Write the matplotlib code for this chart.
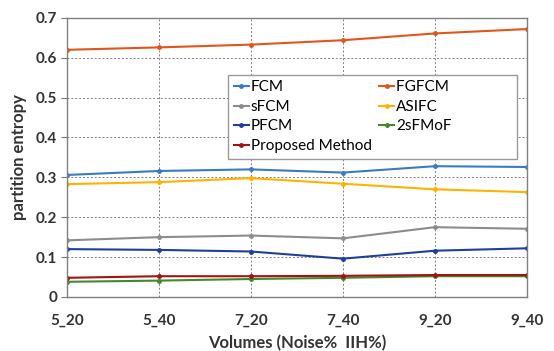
import matplotlib.pyplot as plt

plt.rcParams['font.family'] = ['Lato', 'DejaVu Sans']

volumes = ['5_20', '5_40', '7_20', '7_40', '9_20', '9_40']
fcm = [0.306, 0.316, 0.320, 0.312, 0.328, 0.326]
fgfcm = [0.620, 0.626, 0.633, 0.644, 0.661, 0.672]
sfcm = [0.142, 0.150, 0.154, 0.147, 0.175, 0.171]
asifc = [0.283, 0.288, 0.298, 0.284, 0.270, 0.263]
pfcm = [0.120, 0.118, 0.114, 0.096, 0.116, 0.122]
sfmof = [0.038, 0.041, 0.045, 0.048, 0.052, 0.052]
proposed = [0.048, 0.052, 0.052, 0.053, 0.055, 0.055]

fig = plt.figure(figsize=(5.54, 3.51), dpi=100)
ax = fig.add_axes([0.121, 0.154, 0.830, 0.795])

x = range(len(volumes))
series = [
    ('FCM', fcm, '#3a7cc3'),
    ('FGFCM', fgfcm, '#e0561c'),
    ('sFCM', sfcm, '#8c8c8c'),
    ('ASIFC', asifc, '#ffb300'),
    ('PFCM', pfcm, '#1f3f9c'),
    ('2sFMoF', sfmof, '#418b2a'),
    ('Proposed Method', proposed, '#a31313'),
]
lines = {}
for name, vals, col in series:
    lines[name], = ax.plot(x, vals, color=col, lw=1.5, marker='o', ms=2.5, label=name)

ax.set_xlim(0, len(volumes) - 1)
ax.set_ylim(0, 0.7)
ax.set_xticks(list(x))
ax.set_xticklabels(volumes, fontsize=11, fontweight='bold', color='#333333')
ax.set_yticks([0, 0.1, 0.2, 0.3, 0.4, 0.5, 0.6, 0.7])
ax.set_yticklabels(['0', '0.1', '0.2', '0.3', '0.4', '0.5', '0.6', '0.7'],
                   fontsize=11, fontweight='bold', color='#333333')
ax.tick_params(axis='x', length=0, pad=12)
ax.tick_params(axis='y', length=4, color='#777777', pad=3)
ax.grid(True, linestyle=(0, (2, 2)), color='#808080', lw=0.7)
for s in ax.spines.values():
    s.set_color('#808080')
    s.set_linewidth(1.0)

ax.set_xlabel('Volumes (Noise%  IIH%)', fontsize=12, fontweight='bold', color='#333333', labelpad=5)
ax.set_ylabel('partition entropy', fontsize=12, fontweight='bold', color='#333333', labelpad=6)

# column-wise fill so the legend reads row by row like the original
order = ['FCM', 'sFCM', 'PFCM', 'Proposed Method', 'FGFCM', 'ASIFC', '2sFMoF']
labels = list(order)
labels[4] = 'FGFCM' + '\u2007' * 7  # pad the right column so the frame is wider
leg = ax.legend([lines[n] for n in order], labels, ncol=2, loc='upper left',
                bbox_to_anchor=(0.35, 0.797), borderaxespad=0, fontsize=11,
                handlelength=1.0, handletextpad=0.1, columnspacing=0.5,
                labelspacing=0.36, borderpad=0.38, fancybox=False, framealpha=1,
                edgecolor='#999999')
leg.get_frame().set_linewidth(1.0)

fig.savefig('out.png', dpi=100)
